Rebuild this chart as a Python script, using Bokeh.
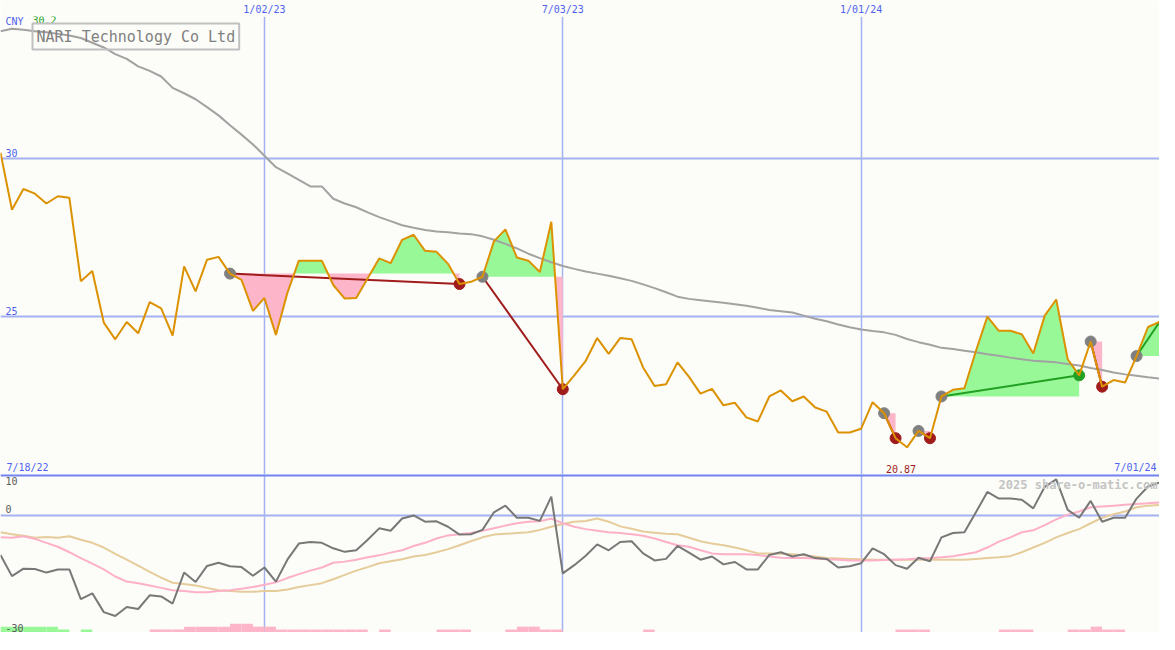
import numpy as np
import pandas as pd
from bokeh.plotting import figure
from bokeh.layouts import column
from bokeh.models import FixedTicker, Grid, Label, Range1d, Span
from bokeh.core.properties import value
from bokeh.embed import file_html
from bokeh.resources import INLINE

# ---------------- data ----------------
week_dates = pd.date_range("2022-07-25", "2024-07-01", freq="7D")  # weekly closes

close = [30.20, 28.39, 29.05, 28.90, 28.59, 28.82, 28.77, 26.13, 26.45, 24.82,
         24.29, 24.84, 24.48, 25.47, 25.27, 24.41, 26.60, 25.81, 26.81, 26.90,
         26.37, 26.17, 25.19, 25.60, 24.43, 25.76, 26.78, 26.78, 26.78, 26.01,
         25.58, 25.60, 26.22, 26.85, 26.70, 27.44, 27.60, 27.09, 27.06, 26.68,
         26.04, 26.11, 26.27, 27.39, 27.77, 26.88, 26.78, 26.42, 28.01, 22.71,
         23.15, 23.61, 24.33, 23.83, 24.33, 24.29, 23.40, 22.81, 22.87, 23.56,
         23.10, 22.57, 22.72, 22.20, 22.28, 21.82, 21.69, 22.48, 22.67, 22.33,
         22.48, 22.13, 22.00, 21.34, 21.34, 21.46, 22.30, 21.95, 21.16, 20.87,
         21.39, 21.16, 22.48, 22.69, 22.74, 23.92, 25.01, 24.56, 24.56, 24.45,
         23.84, 25.04, 25.55, 23.66, 23.15, 24.22, 22.79, 23.00, 22.92, 23.76,
         24.68, 24.84]

ma40 = [34.04, 34.12, 34.09, 34.04, 34.01, 33.96, 33.91, 33.83, 33.68, 33.53,
        33.32, 33.17, 32.93, 32.79, 32.61, 32.25, 32.08, 31.89, 31.64, 31.38,
        31.07, 30.77, 30.46, 30.10, 29.74, 29.54, 29.34, 29.13, 29.13, 28.74,
        28.59, 28.47, 28.31, 28.16, 28.03, 27.90, 27.82, 27.75, 27.70, 27.68,
        27.64, 27.62, 27.55, 27.44, 27.31, 27.17, 27.00, 26.86, 26.73, 26.61,
        26.52, 26.44, 26.37, 26.30, 26.22, 26.14, 26.03, 25.91, 25.78, 25.64,
        25.57, 25.53, 25.49, 25.45, 25.40, 25.35, 25.29, 25.22, 25.18, 25.14,
        25.04, 24.94, 24.86, 24.76, 24.67, 24.60, 24.55, 24.51, 24.43, 24.30,
        24.20, 24.12, 24.02, 23.98, 23.93, 23.88, 23.82, 23.77, 23.71, 23.66,
        23.61, 23.59, 23.56, 23.51, 23.46, 23.38, 23.32, 23.24, 23.18, 23.14,
        23.09, 23.05]

osc = [-10.2, -15.6, -13.7, -13.8, -14.7, -13.9, -13.9, -21.5, -20.0, -24.8,
       -25.8, -23.5, -24.0, -20.5, -20.8, -22.6, -14.7, -17.1, -13.0, -12.2,
       -13.1, -13.3, -15.5, -13.4, -17.0, -11.4, -7.3, -6.9, -7.1, -8.5,
       -9.4, -9.0, -6.3, -3.4, -4.0, -0.9, -0.1, -1.7, -1.6, -3.0,
       -5.0, -4.9, -3.8, 0.7, 2.4, -0.7, -0.7, -1.5, 4.7, -14.9,
       -12.8, -10.4, -7.5, -9.0, -6.9, -6.7, -9.8, -11.6, -11.2, -7.9,
       -9.6, -11.4, -10.6, -12.6, -12.0, -13.9, -13.9, -10.2, -9.5, -10.6,
       -10.0, -11.0, -11.2, -13.4, -13.1, -12.3, -8.5, -10.0, -12.8, -13.7,
       -10.9, -11.8, -5.7, -4.6, -4.4, 0.7, 5.9, 4.2, 4.2, 3.9,
       1.7, 7.2, 9.1, 1.3, -0.7, 3.6, -1.7, -0.7, -0.7, 4.2,
       7.3, 8.3]

osc_fast = [-5.7, -5.8, -5.4, -6.1, -7.1, -8.1, -9.5, -11.0, -12.4, -13.9,
            -15.7, -17.0, -17.4, -18.0, -18.6, -19.2, -19.4, -19.7, -19.7, -19.4,
            -19.2, -18.8, -18.4, -17.8, -17.2, -16.1, -15.1, -14.2, -13.4, -12.2,
            -11.9, -11.4, -10.8, -10.3, -9.6, -9.0, -7.9, -7.1, -6.0, -5.2,
            -4.9, -4.6, -4.0, -3.4, -2.7, -2.1, -1.7, -1.6, -0.9, -2.1,
            -3.0, -3.6, -4.0, -4.4, -4.6, -4.9, -5.3, -6.0, -6.9, -7.7,
            -8.1, -9.0, -9.8, -10.0, -10.0, -10.0, -10.2, -10.6, -10.9, -11.0,
            -11.0, -11.1, -11.3, -11.4, -11.6, -11.6, -11.6, -11.5, -11.4, -11.3,
            -11.1, -11.0, -10.8, -10.5, -10.0, -9.5, -8.3, -6.8, -5.7, -4.4,
            -3.9, -2.6, -1.1, 0.1, 0.9, 2.0, 2.2, 2.4, 2.6, 2.8,
            3.0, 3.2]

osc_slow = [-4.4, -4.9, -5.3, -5.8, -5.6, -5.8, -5.4, -6.3, -7.1, -8.3,
            -9.9, -11.4, -12.9, -14.5, -16.0, -17.3, -17.6, -18.0, -18.6, -19.2,
            -19.4, -19.6, -19.6, -19.4, -19.4, -19.0, -18.4, -17.9, -17.4, -16.4,
            -15.3, -14.2, -13.3, -12.3, -11.8, -11.3, -10.6, -10.2, -9.5, -8.7,
            -7.7, -6.7, -5.7, -5.0, -4.8, -4.6, -4.4, -3.8, -3.0, -2.3,
            -1.7, -1.5, -0.9, -1.7, -2.9, -3.5, -4.2, -4.5, -4.8, -4.9,
            -5.8, -6.7, -7.3, -7.7, -8.3, -9.0, -9.8, -9.8, -9.9, -10.0,
            -10.3, -10.6, -11.0, -11.1, -11.2, -11.3, -11.4, -11.4, -11.4, -11.4,
            -11.4, -11.4, -11.4, -11.4, -11.4, -11.2, -11.0, -10.8, -10.5, -9.5,
            -8.3, -7.1, -5.7, -4.6, -3.6, -2.1, -0.7, 0.2, 0.9, 2.0,
            2.4, 2.6]

# weekly signal strength shown as bars along the bottom (+ green, - pink)
signal_bars = [2, 2, 2, 2, 2, 1, 0, 1, 0, 0,
               0, 0, 0, -1, -1, -1, -2, -2, -2, -2,
               -3, -3, -2, -2, -1, -1, -1, -1, -1, -1,
               -1, -1, 0, -1, 0, 0, 0, 0, -1, -1,
               -1, 0, 0, 0, -1, -2, -2, -1, -1, 0,
               0, 0, 0, 0, 0, 0, -1, 0, 0, 0,
               0, 0, 0, 0, 0, 0, 0, 0, 0, 0,
               0, 0, 0, 0, 0, 0, 0, 0, -1, -1,
               -1, 0, 0, 0, 0, 0, 0, -1, -1, -1,
               0, 0, 0, -1, -1, -2, -1, -1, 0, 0,
               0]

trend_start = [20, 42, 77, 80, 82, 95, 99]
trend_end = [40, 49, 78, 81, 94, 96, 101]
trend_open = [False, False, False, False, False, False, True]

grid_dates = ["2023-01-02", "2023-07-03", "2024-01-01"]
grid_labels = ["1/02/23", "7/03/23", "1/01/24"]
first_label = "7/18/22"
last_label = "7/01/24"
price_ticks = [25, 30]
osc_top, osc_zero, osc_bottom = 10, 0, -30
currency = "CNY"
title = "NARI Technology Co Ltd"
watermark = "2025 share-o-matic.com"

# ---------------- styles ----------------
FONT = "DejaVu Sans Mono"
BG = "#fcfdf8"
GRID = "#a4b2f2"
SEP = "#7282ee"
BLUE_TXT = "#5062f0"
ORANGE = "#dc9200"
MA_GREY = "#a2a2a2"
PINK_FILL = "#fdb6c9"
GREEN_FILL = "#98f898"
DARK_RED = "#a01c1c"
TREND_GREEN = "#22a022"
DOT_GREY = "#808080"
OSC_DARK = "#787878"
OSC_PINK = "#fdb0c8"
OSC_TAN = "#e6cc9a"
LBL_GREY = "#5a5a5a"

W = 1159
H_MAIN = 474
H_LOW = 158
PRICE_LO, PRICE_HI = 20.01, 34.51
OSC_PAD = 0.35
BAR_UNIT = 0.75


def to_ms(d):
    return (pd.DatetimeIndex(d).asi8 // 10**6).astype(float)


xs = to_ms(week_dates)
grid_ms = list(to_ms(pd.to_datetime(grid_dates)))
close_a = np.array(close)

x_range = Range1d(xs[0], xs[-1])

# ---------------- main price panel ----------------
p = figure(width=W, height=H_MAIN, x_axis_type="datetime", x_axis_location="above",
           y_axis_location=None, x_range=x_range, y_range=Range1d(PRICE_LO, PRICE_HI),
           output_backend="svg", toolbar_location=None, min_border=0,
           background_fill_color=BG, border_fill_color=BG, outline_line_color=None)
for g in p.grid:
    if g.dimension == 1:
        g.visible = False

ax = p.xaxis[0]
ax.ticker = FixedTicker(ticks=grid_ms)
ax.major_label_overrides = {float(m): lab for m, lab in zip(grid_ms, grid_labels)}
ax.axis_line_color = None
ax.major_tick_line_color = None
ax.minor_tick_line_color = None
ax.major_tick_out = 0
ax.major_tick_in = 0
ax.major_label_standoff = 2
ax.major_label_text_font = FONT
ax.major_label_text_font_size = "10px"
ax.major_label_text_color = BLUE_TXT
p.xgrid.grid_line_color = GRID
p.xgrid.grid_line_width = 1.5

p.add_layout(Grid(dimension=1, ticker=FixedTicker(ticks=price_ticks),
                  grid_line_color=GRID, grid_line_width=2))


def fill_parts(x, y, s, e, level):
    fx, fy = [], []
    for k in range(s, e):
        fx.append(x[k]); fy.append(y[k])
        a, b = y[k] - level, y[k + 1] - level
        if a * b < 0:
            t = a / (a - b)
            fx.append(x[k] + t * (x[k + 1] - x[k])); fy.append(level)
    fx.append(x[e]); fy.append(y[e])
    fy = np.array(fy)
    return np.array(fx), np.maximum(fy, level), np.minimum(fy, level)


for s, e in zip(trend_start, trend_end):
    lvl = close[s]
    fx, up, dn = fill_parts(xs, close_a, s, e, lvl)
    p.varea(x=fx, y1=lvl, y2=up, fill_color=GREEN_FILL)
    p.varea(x=fx, y1=dn, y2=lvl, fill_color=PINK_FILL)

p.line(xs, ma40, line_color=MA_GREY, line_width=2)

ts = np.array(trend_start); te = np.array(trend_end)
t_col = [TREND_GREEN if close[b] > close[a] else DARK_RED for a, b in zip(ts, te)]
p.segment(x0=xs[ts], y0=close_a[ts], x1=xs[te], y1=close_a[te], line_color=t_col, line_width=2)

p.scatter(xs[ts], close_a[ts], size=11, fill_color=DOT_GREY, line_color=DOT_GREY)
closed = [i for i, o in enumerate(trend_open) if not o]
end_idx = te[closed]
end_col = [t_col[i] for i in closed]
p.scatter(xs[end_idx], close_a[end_idx], size=11, fill_color=end_col, line_color=end_col)

p.line(xs, close, line_color=ORANGE, line_width=2)

txt = dict(text_font=value(FONT), text_font_size="10px")
p.text(x=[xs[0]] * len(price_ticks), y=price_ticks, text=[str(t) for t in price_ticks],
       x_offset=5, y_offset=-2, text_baseline="bottom", text_color=BLUE_TXT, **txt)
p.text(x=[xs[0]], y=[PRICE_HI], text=[currency], x_offset=5, y_offset=-1,
       text_baseline="top", text_color=BLUE_TXT, **txt)
p.text(x=[xs[0]], y=[PRICE_HI], text=[f"{max(close):.1f}"], x_offset=32, y_offset=-1,
       text_baseline="top", text_color=TREND_GREEN, **txt)
p.text(x=[xs[0]], y=[PRICE_LO], text=[first_label], x_offset=6, y_offset=-2,
       text_baseline="bottom", text_color=BLUE_TXT, **txt)
p.text(x=[xs[-1]], y=[PRICE_LO], text=[last_label], x_offset=-3, y_offset=-2,
       text_baseline="bottom", text_align="right", text_color=BLUE_TXT, **txt)
imin = int(np.argmin(close_a))
p.text(x=[xs[imin]], y=[PRICE_LO], text=[f"{close_a[imin]:.2f}"], x_offset=-6, y_offset=-2,
       text_baseline="bottom", text_align="center", text_color=DARK_RED, **txt)

p.add_layout(Label(x=32, y=438, x_units="screen", y_units="screen", text=title,
                   text_font=FONT, text_font_size="15px", text_color="#808080",
                   text_baseline="middle", padding=4,
                   border_line_color="#c0c0c0", border_line_width=2,
                   background_fill_color=None))

# ---------------- lower oscillator panel ----------------
q = figure(width=W, height=H_LOW, x_axis_type="datetime", x_axis_location=None,
           y_axis_location=None, x_range=x_range,
           y_range=Range1d(osc_bottom, osc_top + OSC_PAD),
           output_backend="svg", toolbar_location=None, min_border=0,
           background_fill_color=BG, border_fill_color=BG, outline_line_color=None)
for g in q.grid:
    g.visible = False
q.add_layout(Grid(dimension=0, ticker=FixedTicker(ticks=grid_ms),
                  grid_line_color=GRID, grid_line_width=1.5))
q.add_layout(Grid(dimension=1, ticker=FixedTicker(ticks=[osc_zero]),
                  grid_line_color=GRID, grid_line_width=2))
q.add_layout(Span(location=osc_top + OSC_PAD * 0.45, dimension="width",
                  line_color=SEP, line_width=2.5))

sb = np.array(signal_bars)
nz = np.nonzero(sb)[0]
q.quad(left=xs[nz], right=xs[nz + 1], bottom=osc_bottom,
       top=osc_bottom + np.abs(sb[nz]) * BAR_UNIT,
       fill_color=[GREEN_FILL if v > 0 else PINK_FILL for v in sb[nz]], line_color=None)

q.line(xs, osc_slow, line_color=OSC_TAN, line_width=2)
q.line(xs, osc_fast, line_color=OSC_PINK, line_width=2)
q.line(xs, osc, line_color=OSC_DARK, line_width=2)

q.text(x=[xs[0]], y=[osc_top], text=[str(osc_top)], x_offset=5, y_offset=1,
       text_baseline="top", text_color=LBL_GREY, **txt)
q.text(x=[xs[0]], y=[osc_zero], text=[str(osc_zero)], x_offset=5, y_offset=-2,
       text_baseline="bottom", text_color=LBL_GREY, **txt)
q.text(x=[xs[0]], y=[osc_bottom], text=[str(osc_bottom)], x_offset=5, y_offset=-1,
       text_baseline="bottom", text_color=LBL_GREY, **txt)
q.text(x=[xs[-1]], y=[osc_top], text=[watermark], x_offset=-2, y_offset=2,
       text_baseline="top", text_align="right", text_color="#c4c4c4",
       text_font=value(FONT), text_font_size="12px", text_font_style="bold")

layout = column(p, q, spacing=0)
open("out.html", "w").write(file_html(layout, INLINE))
